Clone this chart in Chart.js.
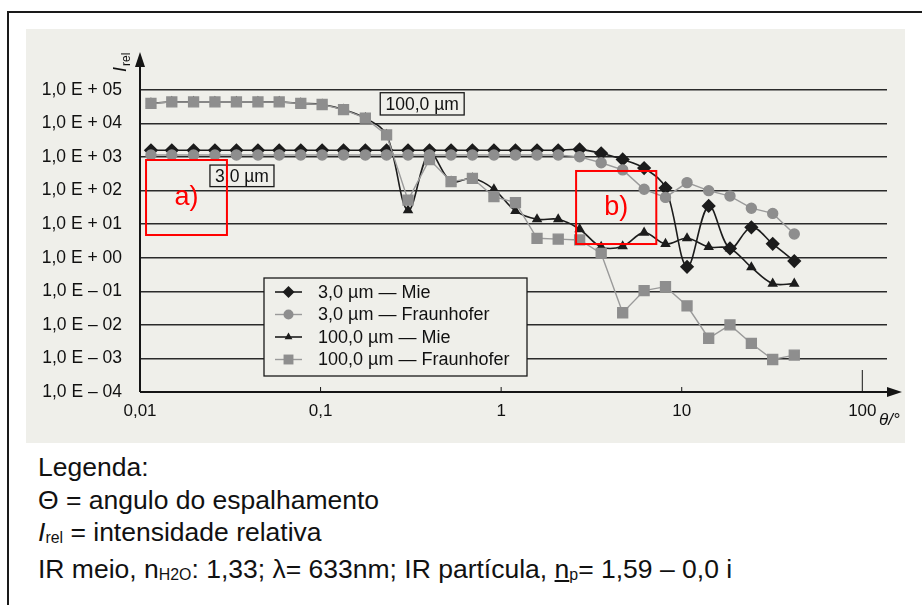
<!DOCTYPE html>
<html><head><meta charset="utf-8">
<script src="https://cdn.jsdelivr.net/npm/chart.js@4/dist/chart.umd.min.js"></script>
<style>
html,body{margin:0;padding:0;background:#fff;width:922px;height:605px;overflow:hidden;font-family:"Liberation Sans",Arial,sans-serif;}
#frame{position:absolute;left:7px;top:11px;width:925px;height:600px;border:2px solid #1a1a1a;box-sizing:border-box;}
#scan{position:absolute;left:26px;top:29px;width:879px;height:414px;background:#efefea;}
#wrap{position:absolute;left:0;top:0;width:922px;height:450px;}
#notes{position:absolute;left:38px;top:451px;font-size:26.5px;line-height:32.7px;color:#111;white-space:nowrap;}
#notes sub{font-size:0.6em;vertical-align:baseline;position:relative;top:0.12em;}
</style></head>
<body>
<div id="frame"></div>
<div id="scan"></div>
<div id="wrap"><canvas id="c" width="922" height="450"></canvas></div>
<div id="notes">Legenda:<br>Θ = angulo do espalhamento<br><i>I</i><sub>rel</sub> = intensidade relativa<br>IR meio, n<sub>H2O</sub>: 1,33; λ= 633nm; IR partícula, <u>n</u><sub>p</sub>= 1,59 – 0,0 i</div>
<script>
// ---- data ----
const angles = [0.0115, 0.015, 0.0198, 0.026, 0.0342, 0.045, 0.059, 0.0777, 0.102, 0.134, 0.177, 0.232, 0.305, 0.401, 0.528, 0.693, 0.912, 1.2, 1.58, 2.07, 2.72, 3.58, 4.71, 6.19, 8.13, 10.7, 14.1, 18.5, 24.3, 31.9, 42];
const mie3 = [1600,1600,1600,1600,1600,1600,1600,1600,1600,1600,1600,1600,1600,1600,1600,1600,1600,1600,1600,1600,1700,1300,850,470,120,0.54,35,1.9,8.1,2.6,0.8];
const fraun3 = [1150,1150,1150,1150,1150,1150,1150,1150,1150,1150,1150,1150,1150,1150,1150,1150,1150,1150,1150,1150,1020,680,417,110,63,174,100,69,30,21,5.1];
const mie100 = [40000,44000,44000,44000,44000,44000,44000,40000,37000,26000,14500,4600,26,1300,186,234,110,25,14,14,7.1,2.1,2.2,5.6,2.6,3.8,2.1,1.9,0.52,0.17,0.17];
const fraun100 = [40000,44000,44000,44000,44000,44000,44000,40000,37000,26000,14500,4600,52,850,186,234,66,44,3.8,3.6,3.4,1.35,0.023,0.105,0.138,0.037,0.004,0.01,0.0028,0.00093,0.00126];
const seriesLabels = ['3,0 \u00b5m \u2014 Mie','3,0 \u00b5m \u2014 Fraunhofer','100,0 \u00b5m \u2014 Mie','100,0 \u00b5m \u2014 Fraunhofer'];
const xTickValues = [0.01, 0.1, 1, 10, 100];
const xTickLabels = ['0,01','0,1','1','10','100'];
const yTickValues = [1e-4,1e-3,1e-2,1e-1,1e0,1e1,1e2,1e3,1e4,1e5];
const yTickLabels = ['1,0 E \u2013 04','1,0 E \u2013 03','1,0 E \u2013 02','1,0 E \u2013 01','1,0 E + 00','1,0 E + 01','1,0 E + 02','1,0 E + 03','1,0 E + 04','1,0 E + 05'];

const BLACK = '#1c1c1c', GRAY = '#8e8e8e', GRAYLINE = '#9a9a9a';
const FONT = '"Liberation Sans", Arial, sans-serif';

function pts(arr){ return arr.map((v,i)=>({x:angles[i], y:v})); }

const datasets = [
  {label:seriesLabels[0], data:pts(mie3), borderColor:BLACK, backgroundColor:BLACK, pointStyle:'rectRot', pointRadius:6, borderWidth:1.6, tension:0.35, order:2},
  {label:seriesLabels[1], data:pts(fraun3), borderColor:GRAYLINE, backgroundColor:GRAY, pointBorderColor:GRAY, pointStyle:'circle', pointRadius:5, borderWidth:1.4, tension:0, order:1},
  {label:seriesLabels[2], data:pts(mie100), borderColor:BLACK, backgroundColor:BLACK, pointStyle:'triangle', pointRadius:4.5, borderWidth:1.6, tension:0.35, order:2},
  {label:seriesLabels[3], data:pts(fraun100), borderColor:GRAYLINE, backgroundColor:GRAY, pointBorderColor:GRAY, pointStyle:'rect', pointRadius:7, borderWidth:1.4, tension:0, order:1}
];

function drawMarker(ctx, style, r, x, y, fill){
  ctx.fillStyle = fill;
  ctx.beginPath();
  if(style==='rectRot'){ ctx.moveTo(x-r,y); ctx.lineTo(x,y-r); ctx.lineTo(x+r,y); ctx.lineTo(x,y+r); ctx.closePath(); }
  else if(style==='circle'){ ctx.arc(x,y,r,0,Math.PI*2); }
  else if(style==='triangle'){ ctx.moveTo(x,y-r); ctx.lineTo(x+r*0.866,y+r*0.5); ctx.lineTo(x-r*0.866,y+r*0.5); ctx.closePath(); }
  else { const s=r*Math.SQRT1_2; ctx.rect(x-s,y-s,2*s,2*s); }
  ctx.fill();
}

const deco = {
  id:'deco',
  beforeDatasetsDraw(chart){
    const {ctx, chartArea:a, scales:{x,y}} = chart;
    const x0 = x.getPixelForValue(xTickValues[0]);
    const y0 = y.getPixelForValue(yTickValues[0]);
    ctx.save();
    ctx.strokeStyle = '#151515'; ctx.fillStyle = '#151515'; ctx.lineWidth = 2;
    // y axis with arrow
    const yTip = a.top - 38;
    ctx.beginPath(); ctx.moveTo(x0, y0); ctx.lineTo(x0, yTip + 10); ctx.stroke();
    ctx.beginPath(); ctx.moveTo(x0, yTip); ctx.lineTo(x0+5, yTip+15); ctx.lineTo(x0-5, yTip+15); ctx.closePath(); ctx.fill();
    // x axis with arrow
    const xTip = a.right + 15;
    ctx.beginPath(); ctx.moveTo(x0, y0); ctx.lineTo(xTip - 10, y0); ctx.stroke();
    ctx.beginPath(); ctx.moveTo(xTip, y0); ctx.lineTo(xTip-15, y0-5); ctx.lineTo(xTip-15, y0+5); ctx.closePath(); ctx.fill();
    // small tick marks
    ctx.lineWidth = 1;
    xTickValues.slice(1).forEach((v,i)=>{
      const px = x.getPixelForValue(v);
      const len = (i === xTickValues.length-2) ? 22 : 5;
      ctx.beginPath(); ctx.moveTo(px, y0); ctx.lineTo(px, y0 - len); ctx.stroke();
    });
    // y-axis title I_rel (rotated)
    ctx.save();
    ctx.translate(x0 - 14, a.top - 18);
    ctx.rotate(-Math.PI/2);
    ctx.fillStyle = '#111';
    ctx.textBaseline = 'alphabetic'; ctx.textAlign = 'left';
    ctx.font = 'italic 18px ' + FONT;
    ctx.fillText('I', 0, 0);
    const wI = ctx.measureText('I').width;
    ctx.font = '12px ' + FONT;
    ctx.fillText('rel', wI + 1, 4);
    ctx.restore();
    // x-axis title
    ctx.fillStyle = '#111';
    ctx.font = 'italic 17px ' + FONT;
    ctx.textAlign = 'left'; ctx.textBaseline = 'middle';
    ctx.fillText('\u03b8/\u00b0', a.right - 8, y0 + 28);
    ctx.restore();
  },
  afterDraw(chart){
    const {ctx, scales:{x,y}} = chart;
    ctx.save();
    function labelBox(x1,y1,x2,y2,text){
      const l=x.getPixelForValue(x1), r=x.getPixelForValue(x2), t=y.getPixelForValue(y1), b=y.getPixelForValue(y2);
      ctx.fillStyle='#efefea'; ctx.fillRect(l,t,r-l,b-t);
      ctx.strokeStyle='#1a1a1a'; ctx.lineWidth=1.3; ctx.strokeRect(l,t,r-l,b-t);
      ctx.fillStyle='#111'; ctx.font='17.5px '+FONT; ctx.textAlign='center'; ctx.textBaseline='middle';
      ctx.fillText(text,(l+r)/2,(t+b)/2+1);
    }
    labelBox(0.214, 8.3e4, 0.624, 1.8e4, '100,0 \u00b5m');
    labelBox(0.0244, 5.8e2, 0.0552, 1.32e2, '3,0 \u00b5m');
    // legend
    const L=264, T=278, W=263, H=98;
    ctx.fillStyle='#efefea'; ctx.fillRect(L,T,W,H);
    ctx.strokeStyle='#1a1a1a'; ctx.lineWidth=1.3; ctx.strokeRect(L,T,W,H);
    const rows=[292, 314.5, 337, 359.5];
    chart.data.datasets.forEach((ds,i)=>{
      const yy=rows[i];
      ctx.strokeStyle=ds.borderColor; ctx.lineWidth=ds.borderWidth;
      ctx.beginPath(); ctx.moveTo(275,yy); ctx.lineTo(302,yy); ctx.stroke();
      drawMarker(ctx, ds.pointStyle, ds.pointRadius, 288.5, yy, ds.backgroundColor);
      ctx.fillStyle='#111'; ctx.font='18px '+FONT; ctx.textAlign='left'; ctx.textBaseline='middle';
      ctx.fillText(ds.label, 318, yy+1);
    });
    function redBox(x1,y1,x2,y2,text){
      const l=x.getPixelForValue(x1), r=x.getPixelForValue(x2), t=y.getPixelForValue(y1), b=y.getPixelForValue(y2);
      ctx.strokeStyle='#ff0000'; ctx.lineWidth=2; ctx.strokeRect(l,t,r-l,b-t);
      ctx.fillStyle='#ff0000'; ctx.font='27px '+FONT; ctx.textAlign='center'; ctx.textBaseline='middle';
      ctx.fillText(text,(l+r)/2,(t+b)/2);
    }
    redBox(0.0108, 820, 0.0303, 4.77, 'a)');
    redBox(2.60, 386, 7.23, 2.57, 'b)');
    ctx.restore();
  }
};

new Chart(document.getElementById('c'), {
  type:'line',
  data:{datasets},
  options:{
    responsive:false, animation:false,
    layout:{padding:{left:40, top:90, right:35, bottom:18}},
    plugins:{legend:{display:false}, tooltip:{enabled:false}},
    elements:{point:{borderWidth:0, hoverRadius:0}},
    scales:{
      x:{type:'logarithmic', min:0.01, max:137,
        afterBuildTicks(s){ s.ticks = xTickValues.map(v=>({value:v})); },
        afterFit(s){ s.height = 40; },
        grid:{display:false, drawTicks:false}, border:{display:false},
        ticks:{padding:9, color:'#111', font:{size:17, family:FONT}, maxRotation:0, autoSkip:false,
          callback:(v,i)=>xTickLabels[i]}
      },
      y:{type:'logarithmic', min:1e-4, max:1e5,
        afterBuildTicks(s){ s.ticks = yTickValues.map(v=>({value:v})); },
        afterFit(s){ s.width = 100; },
        grid:{color:'#2a2a2a', lineWidth:1.5, drawTicks:false}, border:{display:false},
        ticks:{padding:18, color:'#111', font:{size:17.5, family:FONT}, autoSkip:false,
          callback:(v,i)=>yTickLabels[i]}
      }
    }
  },
  plugins:[deco]
});
</script>
</body></html>
